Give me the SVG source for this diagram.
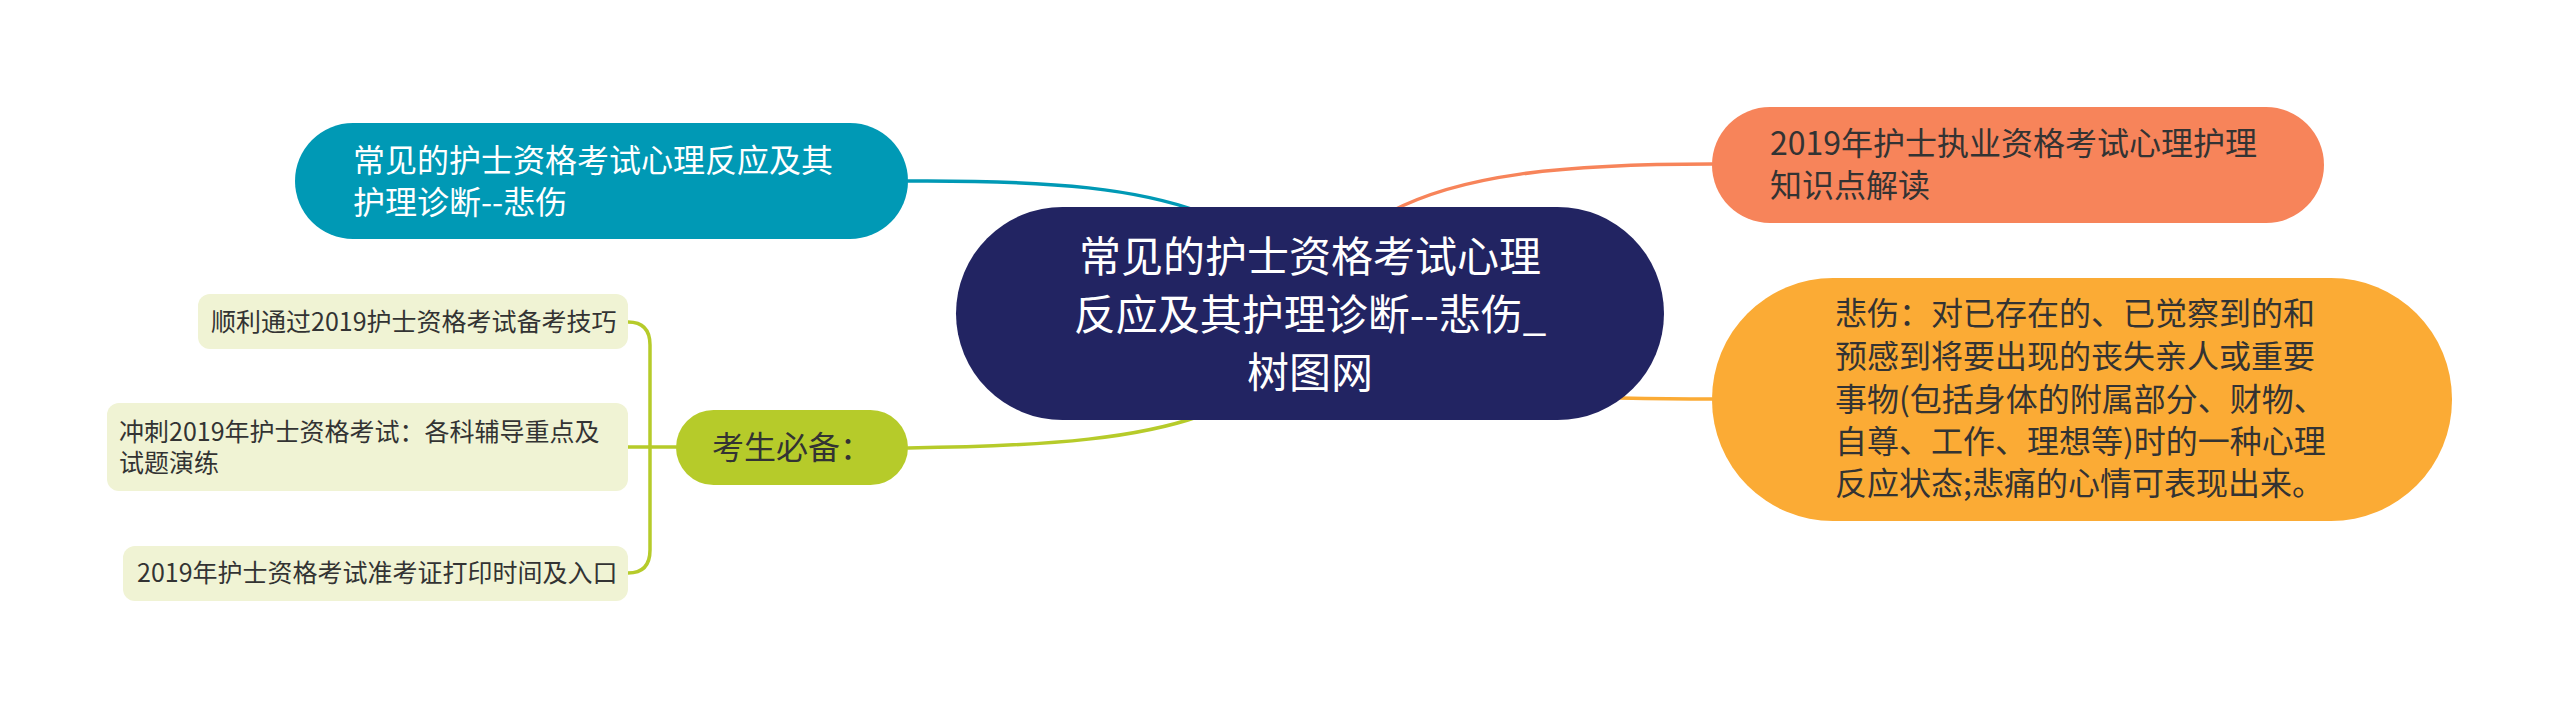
<svg xmlns="http://www.w3.org/2000/svg" width="2560" height="709" viewBox="0 0 2560 709">
<style>
text { font-family: "Noto Sans CJK SC", "Noto Sans", sans-serif; }
.c { fill: none; stroke-width: 3.5; stroke-linecap: round; }
.t32 { font-size: 32px; }
.leaf rect { fill: #f0f3d4; }
.leaf text { font-size: 25px; fill: #333333; }
.dark { fill: #333333; }
</style>
<rect width="2560" height="709" fill="#ffffff"/>
<g id="connectors">
  <path class="c" stroke="#0099b5" d="M908,181 C1060,180 1140,190 1200,212"/>
  <path class="c" stroke="#f7845a" d="M1390,212 C1460,175 1560,164 1712,164"/>
  <path class="c" stroke="#fbab35" d="M1620,398 Q1670,399 1712,399"/>
  <path class="c" stroke="#b6cb2a" d="M908,448 C1060,446 1140,437 1200,416"/>
  <path class="c" stroke="#b6cb2a" stroke-width="3" d="M676,447 L628,447"/>
  <path class="c" stroke="#b6cb2a" stroke-width="3" d="M650,447 L650,345 Q650,322 628,322"/>
  <path class="c" stroke="#b6cb2a" stroke-width="3" d="M650,447 L650,550 Q650,573 628,573"/>
</g>
<g id="center">
  <rect x="956" y="207" width="708" height="213" rx="106.5" fill="#222462"/>
  <text x="1310" y="272" font-size="42" fill="#ffffff" text-anchor="middle">常见的护士资格考试心理</text>
  <text x="1310" y="330" font-size="42" fill="#ffffff" text-anchor="middle">反应及其护理诊断--悲伤_</text>
  <text x="1310" y="388" font-size="42" fill="#ffffff" text-anchor="middle">树图网</text>
</g>
<g id="node-teal">
  <rect x="295" y="123" width="613" height="116" rx="58" fill="#0099b5"/>
  <text class="t32" x="353" y="172" fill="#ffffff">常见的护士资格考试心理反应及其</text>
  <text class="t32" x="353" y="214" fill="#ffffff">护理诊断--悲伤</text>
</g>
<g id="node-coral">
  <rect x="1712" y="107" width="612" height="116" rx="58" fill="#f7845a"/>
  <text class="t32 dark" x="1770" y="155">2019年护士执业资格考试心理护理</text>
  <text class="t32 dark" x="1770" y="197">知识点解读</text>
</g>
<g id="node-yellow">
  <rect x="1712" y="278" width="740" height="243" rx="121" fill="#fbab35"/>
  <text class="t32 dark" x="1835" y="325">悲伤：对已存在的、已觉察到的和</text>
  <text class="t32 dark" x="1835" y="368">预感到将要出现的丧失亲人或重要</text>
  <text class="t32 dark" x="1835" y="411">事物(包括身体的附属部分、财物、</text>
  <text class="t32 dark" x="1835" y="453">自尊、工作、理想等)时的一种心理</text>
  <text class="t32 dark" x="1835" y="495">反应状态;悲痛的心情可表现出来。</text>
</g>
<g id="node-green">
  <rect x="676" y="410" width="232" height="75" rx="37.5" fill="#b6cb2a"/>
  <text class="t32 dark" x="712" y="459">考生必备：</text>
</g>
<g id="leaf-1" class="leaf">
  <rect x="198" y="294" width="430" height="55" rx="12"/>
  <text x="211" y="331">顺利通过2019护士资格考试备考技巧</text>
</g>
<g id="leaf-2" class="leaf">
  <rect x="107" y="403" width="521" height="88" rx="12"/>
  <text x="119" y="441">冲刺2019年护士资格考试：各科辅导重点及</text>
  <text x="119" y="472">试题演练</text>
</g>
<g id="leaf-3" class="leaf">
  <rect x="123" y="546" width="505" height="55" rx="12"/>
  <text x="137" y="582">2019年护士资格考试准考证打印时间及入口</text>
</g>
</svg>
